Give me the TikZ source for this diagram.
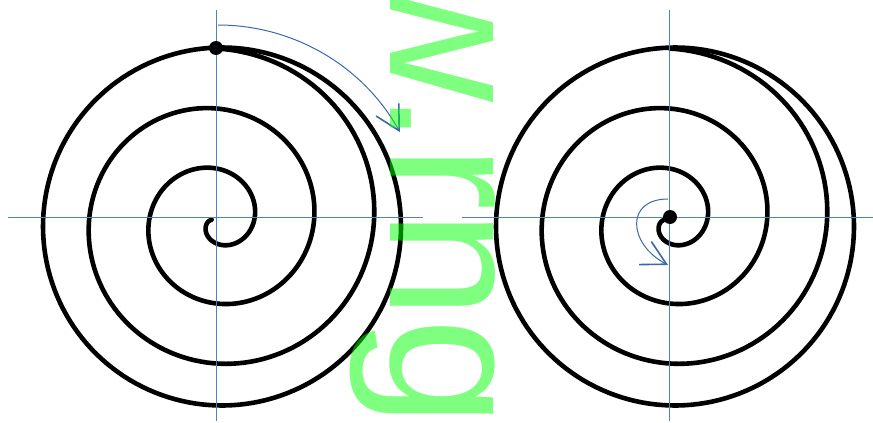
\documentclass[tikz,border=0pt]{standalone}
\usepackage{fontspec}
\newfontfamily\wmfont{Liberation Sans}
\usetikzlibrary{arrows.meta}
\definecolor{axisblue}{HTML}{4F81BD}
\definecolor{arrowblue}{HTML}{3B67AE}
\definecolor{wmgreen}{RGB}{0,255,0}
\begin{document}
\begin{tikzpicture}[x=1pt,y=-1pt,
  axis/.style={axisblue, line width=1pt},
  spiral/.style={black, line width=4.6pt, line cap=round, line join=round},
  turn/.style={arrowblue, line width=1pt, -{Straight Barb[length=24pt,width=26pt,line width=1.6pt]}},
  dot/.style={circle, fill=black, inner sep=0pt, minimum size=14pt},
  wm/.style={text=wmgreen, text opacity=0.5, font=\wmfont\fontsize{195}{195}\selectfont, rotate=-90, anchor=base west, inner sep=0pt}]
\useasboundingbox (0,0) rectangle (873,423);
\clip (0,0) rectangle (873,423);
% spirals
\draw[spiral] plot[domain=165:1170, samples=400, variable=\t] ({216.5+(\t/6-22.5)*cos(\t)}, {221-(\t/6-22.5)*sin(\t)});
\draw[spiral] plot[domain=91.8:452, samples=160, variable=\t] ({222+179*cos(\t)}, {226.5-179*sin(\t)});
\draw[spiral] plot[domain=165:1170, samples=400, variable=\t] ({669.5+(\t/6-22.5)*cos(\t)}, {221-(\t/6-22.5)*sin(\t)});
\draw[spiral] plot[domain=91.8:452, samples=160, variable=\t] ({675+179*cos(\t)}, {226.5-179*sin(\t)});
% axes
\coordinate (Lh1) at (8,217.5); \coordinate (Lh2) at (423,217.5);
\coordinate (Lv1) at (216,10); \coordinate (Lv2) at (216,421);
\coordinate (Rh1) at (462,217.5); \coordinate (Rh2) at (873,217.5);
\coordinate (Rv1) at (669,10); \coordinate (Rv2) at (669,421);
\draw[axis] (Lh1) -- (Lh2);
\draw[axis] (Lv1) -- (Lv2);
\draw[axis] (Rh1) -- (Rh2);
\draw[axis] (Rv1) -- (Rv2);
% dots
\node[dot] (Ldot) at (216,48) {};
\node[dot] (Rdot) at (670,217) {};
% turning arrows
\coordinate (La) at (218,25);
\draw[turn] (La) arc[start angle=-90, end angle=-29, radius=208];
\coordinate (Ra1) at (668,199);
\coordinate (Ra2) at (668,265);
\draw[turn] (Ra1) .. controls (625,199) and (628,244) .. (Ra2);
% watermark text
\node[wm] (wmark) at (390,-39) {w.rng};
\end{tikzpicture}
\end{document}
